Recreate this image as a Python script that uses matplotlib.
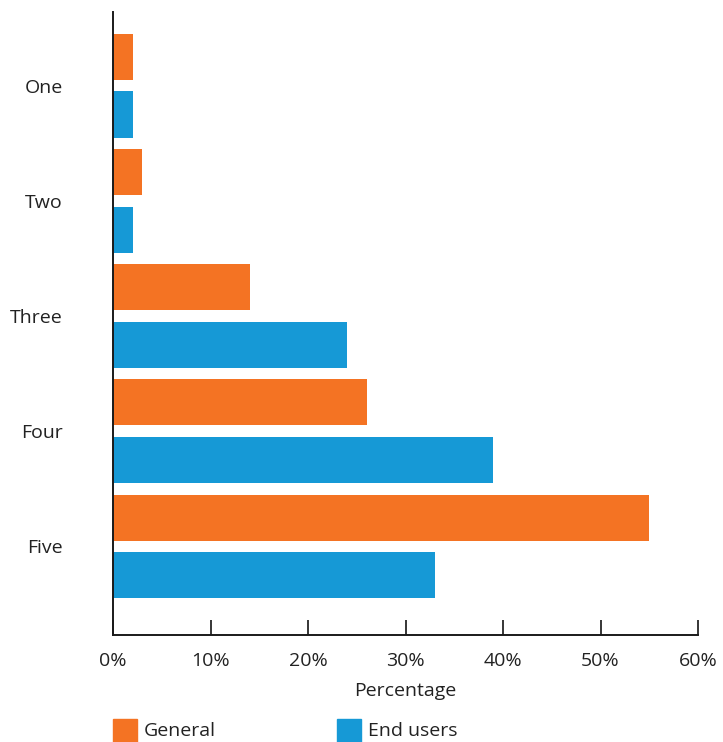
import matplotlib.pyplot as plt
from matplotlib.patches import Rectangle
import numpy as np

plt.rcParams["font.family"] = ["Open Sans", "DejaVu Sans"]

categories = ["One", "Two", "Three", "Four", "Five"]
general = [2, 3, 14, 26, 55]
end_users = [2, 2, 24, 39, 33]
x_ticks = [0, 10, 20, 30, 40, 50, 60]

ORANGE = "#F47323"
BLUE = "#1699D6"
TEXT = "#222222"

W, H = 723, 742
fig = plt.figure(figsize=(W / 100, H / 100), dpi=100)
ax = fig.add_axes([113 / W, 1 - 635 / H, (698 - 113) / W, (635 - 12) / H])

y = np.arange(len(categories))
ax.barh(y - 0.25, general, height=0.4, color=ORANGE)
ax.barh(y + 0.25, end_users, height=0.4, color=BLUE)

ax.set_xlim(0, 60)
ax.set_ylim(4.77, -0.64)
ax.set_xticks(x_ticks)
ax.set_xticklabels([f"{t}%" for t in x_ticks], fontsize=14, color=TEXT)
ax.set_yticks(y)
ax.set_yticklabels(categories, fontsize=14, color=TEXT)
ax.tick_params(axis="y", length=0, pad=36)
ax.tick_params(axis="x", direction="in", length=11, width=1.1, pad=12)
ax.set_xlabel("Percentage", fontsize=14, color=TEXT, labelpad=9)

for side in ["top", "right"]:
    ax.spines[side].set_visible(False)
for side in ["left", "bottom"]:
    ax.spines[side].set_linewidth(1.4)
    ax.spines[side].set_color("#1a1a1a")

# legend drawn by hand in figure pixels
for x0, color, name in [(113, ORANGE, "General"), (337, BLUE, "End users")]:
    fig.add_artist(Rectangle((x0 / W, 0), 24 / W, 23 / H, transform=fig.transFigure,
                             color=color, clip_on=False))
    fig.text((x0 + 31) / W, 11 / H, name, fontsize=14, color=TEXT, va="center")

fig.savefig("out.png", dpi=100)
